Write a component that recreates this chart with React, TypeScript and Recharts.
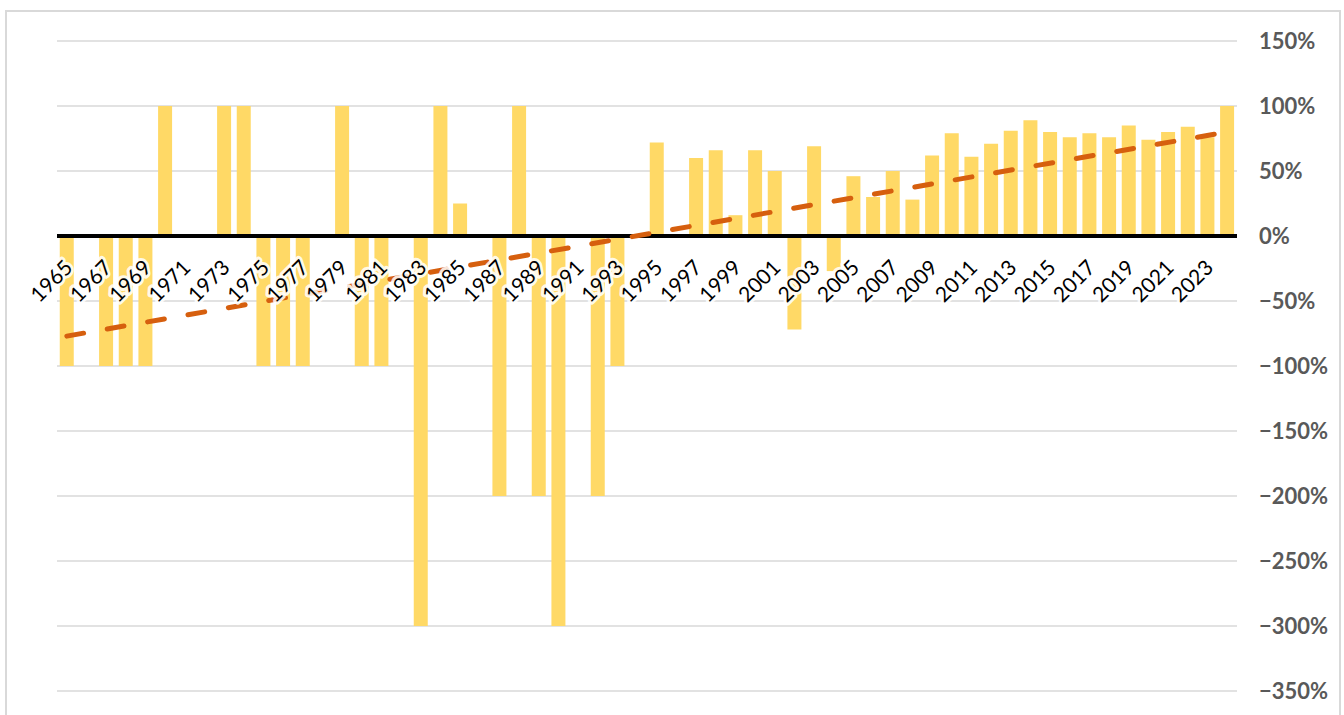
import { ComposedChart, Bar, Line, XAxis, YAxis, CartesianGrid, ReferenceLine } from 'recharts'

const YEARS = [
  1965, 1966, 1967, 1968, 1969, 1970, 1971, 1972, 1973, 1974,
  1975, 1976, 1977, 1978, 1979, 1980, 1981, 1982, 1983, 1984,
  1985, 1986, 1987, 1988, 1989, 1990, 1991, 1992, 1993, 1994,
  1995, 1996, 1997, 1998, 1999, 2000, 2001, 2002, 2003, 2004,
  2005, 2006, 2007, 2008, 2009, 2010, 2011, 2012, 2013, 2014,
  2015, 2016, 2017, 2018, 2019, 2020, 2021, 2022, 2023, 2024,
]

// yearly change, percent
const CHANGE = [
  -100, 0, -100, -100, -100, 100, 0, 0, 100, 100,
  -100, -100, -100, 0, 100, -100, -100, 0, -300, 100,
  25, 0, -200, 100, -200, -300, 0, -200, -100, 0,
  72, 0, 60, 66, 16, 66, 50, -72, 69, -27,
  46, 30, 50, 28, 62, 79, 61, 71, 81, 89,
  80, 76, 79, 76, 85, 74, 80, 84, 76, 100,
]

// linear trend, value at first and last year
const TREND_ENDS = [-77, 80]

const Y_TICKS = [-350, -300, -250, -200, -150, -100, -50, 0, 50, 100, 150]

const data = YEARS.map((year, i) => ({
  year,
  change: CHANGE[i],
  trend: i === 0 ? TREND_ENDS[0] : i === YEARS.length - 1 ? TREND_ENDS[1] : null,
}))

const W = 1344
const H = 715
const X_AXIS_H = 1
const Y_AXIS_W = 100
const MARGIN = { top: 41, right: 107 - Y_AXIS_W, bottom: 24 - X_AXIS_H, left: 57 }
const PLOT_H = H - 41 - 24
const Y_MIN = -350
const Y_MAX = 150
// distance from plot bottom up to the zero line
const ZERO_UP = PLOT_H * (0 - Y_MIN) / (Y_MAX - Y_MIN)

const fmtPct = (v: number) => `${v < 0 ? '\u2212' : ''}${Math.abs(v)}%`

function YearTick({ x, y, payload }: any) {
  const ax = x + 7
  const ay = y - ZERO_UP + 33
  return (
    <g transform={`translate(${ax}, ${ay}) rotate(-45)`}>
      <text
        x={0}
        y={0}
        textAnchor="end"
        fontFamily="Lato, 'Open Sans', sans-serif"
        fontSize={21}
        fill="#000"
        stroke="rgba(255,255,255,0.85)"
        strokeWidth={6}
        strokeLinejoin="round"
        paintOrder="stroke"
      >
        {payload.value}
      </text>
    </g>
  )
}

export default function App() {
  return (
    <div style={{ position: 'absolute', left: 0, top: 0, width: W, height: H, background: '#fff', overflow: 'hidden' }}>
      <div
        style={{
          position: 'absolute', left: 5, top: 10, width: W - 8, height: H + 20,
          border: '2px solid #d9d9d9', boxSizing: 'border-box',
        }}
      />
      <ComposedChart width={W} height={H} data={data} margin={MARGIN} barCategoryGap="14%">
        <CartesianGrid vertical={false} stroke="#d9d9d9" strokeWidth={1.5} />
        <YAxis
          orientation="right"
          domain={[Y_MIN, Y_MAX]}
          ticks={Y_TICKS}
          interval={0}
          allowDataOverflow
          axisLine={false}
          tickLine={false}
          tickSize={0}
          tickMargin={22}
          width={Y_AXIS_W}
          tickFormatter={fmtPct}
          tick={{ fill: '#595959', fontSize: 22, fontWeight: 700, fontFamily: "Lato, 'Open Sans', sans-serif" }}
        />
        <Bar dataKey="change" fill="#ffd966" isAnimationActive={false} />
        <ReferenceLine y={0} stroke="#000" strokeWidth={4} />
        <Line
          dataKey="trend"
          stroke="#d65f0e"
          strokeWidth={5}
          strokeDasharray="17 24"
          strokeLinecap="round"
          dot={false}
          connectNulls
          isAnimationActive={false}
        />
        <XAxis
          dataKey="year"
          interval={1}
          height={X_AXIS_H}
          axisLine={false}
          tickLine={false}
          tickSize={0}
          tickMargin={0}
          tick={<YearTick />}
        />
      </ComposedChart>
    </div>
  )
}
